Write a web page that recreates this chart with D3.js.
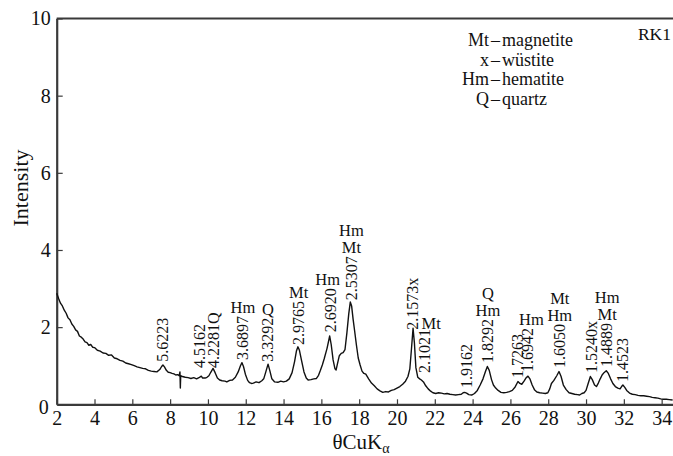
<!DOCTYPE html>
<html>
<head>
<meta charset="utf-8">
<script src="https://cdn.jsdelivr.net/npm/d3@7"></script>
</head>
<body style="margin:0">
<script>
// diffraction pattern (2theta, intensity)
const twoTheta = [
  2.00, 2.10, 2.20, 2.30, 2.40, 2.50, 2.60, 2.70, 2.80, 2.90, 3.00, 3.10, 3.20, 3.30, 3.40, 3.50, 3.60, 3.70, 3.80, 3.90,
  4.00, 4.15, 4.30, 4.45, 4.60, 4.75, 4.90, 5.05, 5.20, 5.35, 5.50, 5.65, 5.80, 5.95, 6.10, 6.25, 6.40, 6.55, 6.70, 6.85,
  7.00, 7.15, 7.30, 7.45, 7.55, 7.62, 7.70, 7.80, 7.90, 8.00, 8.10, 8.20, 8.30, 8.40, 8.48, 8.52, 8.54, 8.56, 8.65, 8.80,
  8.95, 9.10, 9.25, 9.40, 9.55, 9.65, 9.72, 9.85, 9.95, 10.05, 10.15, 10.27, 10.38, 10.50, 10.62, 10.75, 10.90, 11.00, 11.15, 11.30,
  11.45, 11.60, 11.72, 11.80, 11.88, 11.98, 12.10, 12.20, 12.30, 12.40, 12.55, 12.70, 12.85, 12.95, 13.05, 13.18, 13.28, 13.38, 13.53, 13.70,
  13.85, 14.00, 14.15, 14.30, 14.45, 14.58, 14.68, 14.76, 14.84, 14.95, 15.08, 15.20, 15.30, 15.45, 15.60, 15.74, 15.85, 15.95, 16.05, 16.15,
  16.30, 16.44, 16.52, 16.62, 16.72, 16.78, 16.85, 16.95, 17.05, 17.15, 17.25, 17.35, 17.45, 17.53, 17.60, 17.68, 17.76, 17.85, 17.95, 18.05,
  18.15, 18.25, 18.35, 18.50, 18.65, 18.80, 18.95, 19.10, 19.25, 19.40, 19.55, 19.70, 19.85, 20.00, 20.15, 20.30, 20.45, 20.58, 20.68, 20.76,
  20.85, 20.92, 21.00, 21.10, 21.20, 21.29, 21.40, 21.52, 21.65, 21.78, 21.90, 22.05, 22.20, 22.35, 22.50, 22.65, 22.80, 22.95, 23.10, 23.25,
  23.40, 23.50, 23.58, 23.68, 23.80, 23.95, 24.10, 24.25, 24.40, 24.55, 24.68, 24.78, 24.88, 25.00, 25.10, 25.22, 25.35, 25.50, 25.65, 25.80,
  25.95, 26.10, 26.25, 26.40, 26.50, 26.60, 26.72, 26.82, 26.93, 27.03, 27.15, 27.27, 27.40, 27.55, 27.70, 27.85, 27.98, 28.08, 28.17, 28.30,
  28.45, 28.57, 28.68, 28.80, 28.95, 29.10, 29.25, 29.40, 29.55, 29.66, 29.78, 29.90, 30.00, 30.10, 30.23, 30.33, 30.45, 30.55, 30.65, 30.75,
  30.85, 30.95, 31.07, 31.18, 31.30, 31.42, 31.55, 31.68, 31.80, 31.88, 31.95, 32.05, 32.15, 32.30, 32.45, 32.60, 32.75, 32.90, 33.05, 33.20,
  33.36, 33.50, 33.65, 33.80, 33.95, 34.10, 34.25, 34.40, 34.58
];
const intensity = [
  2.88, 2.74, 2.62, 2.55, 2.44, 2.36, 2.24, 2.19, 2.08, 2.02, 1.93, 1.89, 1.77, 1.74, 1.69, 1.62, 1.60, 1.53, 1.55, 1.48,
  1.47, 1.40, 1.38, 1.33, 1.32, 1.27, 1.28, 1.20, 1.18, 1.14, 1.12, 1.07, 1.05, 1.03, 1.00, 0.97, 0.95, 0.93, 0.92, 0.88,
  0.86, 0.85, 0.84, 0.90, 0.98, 1.02, 0.97, 0.88, 0.83, 0.82, 0.80, 0.79, 0.76, 0.77, 0.74, 0.84, 0.42, 0.74, 0.72, 0.70,
  0.69, 0.67, 0.69, 0.66, 0.70, 0.73, 0.68, 0.68, 0.70, 0.74, 0.83, 0.93, 0.82, 0.68, 0.63, 0.61, 0.60, 0.58, 0.62, 0.63,
  0.70, 0.84, 1.00, 1.08, 0.98, 0.78, 0.62, 0.56, 0.54, 0.55, 0.58, 0.56, 0.61, 0.66, 0.82, 1.04, 0.86, 0.66, 0.58, 0.57,
  0.60, 0.58, 0.60, 0.66, 0.82, 1.10, 1.38, 1.49, 1.40, 1.14, 0.84, 0.68, 0.63, 0.64, 0.66, 0.67, 0.75, 0.88, 1.02, 1.18,
  1.45, 1.77, 1.55, 1.15, 0.92, 0.89, 1.05, 1.26, 1.32, 1.34, 1.42, 1.85, 2.35, 2.65, 2.55, 2.20, 1.90, 1.55, 1.20, 1.02,
  0.86, 0.80, 0.78, 0.66, 0.55, 0.48, 0.40, 0.35, 0.31, 0.33, 0.32, 0.36, 0.38, 0.42, 0.46, 0.52, 0.60, 0.72, 0.92, 1.40,
  1.97, 1.60, 0.95, 0.70, 0.66, 0.63, 0.58, 0.48, 0.40, 0.34, 0.30, 0.28, 0.30, 0.29, 0.27, 0.28, 0.26, 0.25, 0.24, 0.25,
  0.26, 0.30, 0.31, 0.29, 0.25, 0.24, 0.28, 0.36, 0.50, 0.66, 0.85, 0.98, 0.88, 0.64, 0.50, 0.42, 0.36, 0.31, 0.30, 0.31,
  0.33, 0.36, 0.45, 0.59, 0.54, 0.52, 0.60, 0.68, 0.73, 0.66, 0.50, 0.38, 0.32, 0.30, 0.29, 0.28, 0.30, 0.40, 0.54, 0.62,
  0.74, 0.85, 0.72, 0.50, 0.38, 0.30, 0.28, 0.26, 0.25, 0.24, 0.28, 0.30, 0.36, 0.52, 0.72, 0.64, 0.50, 0.46, 0.55, 0.66,
  0.76, 0.82, 0.87, 0.80, 0.66, 0.54, 0.46, 0.42, 0.40, 0.46, 0.50, 0.44, 0.36, 0.29, 0.26, 0.25, 0.23, 0.22, 0.22, 0.21,
  0.20, 0.18, 0.17, 0.16, 0.14, 0.13, 0.13, 0.12, 0.11
];

// peak annotations: d-spacing text, 2theta, intensity where the label starts, phases above
const peakText = ["5.6223", "4.5162", "4.2281Q", "3.6897", "3.3292", "2.9765", "2.6920", "2.5307", "2.1573x",
  "2.1021", "1.9162", "1.8292", "1.7263", "1.6942", "1.6050", "1.5240x", "1.4889", "1.4523"];
const peakPos = [7.61, 9.56, 10.30, 11.85, 13.18, 14.80, 16.48, 17.59, 20.85,
  21.46, 23.67, 24.81, 26.40, 26.93, 28.61, 30.28, 31.07, 31.95];
const peakBase = [1.10, 0.94, 0.94, 1.15, 1.10, 1.54, 1.87, 2.70, 1.93,
  0.81, 0.42, 1.07, 0.68, 0.84, 0.94, 0.81, 0.97, 0.58];
const peakPhases = [[], [], [], ["Hm"], ["Q"], ["Mt"], ["Hm"], ["Mt", "Hm"], [],
  ["Mt"], [], ["Hm", "Q"], [], ["Hm"], ["Hm", "Mt"], [], ["Mt", "Hm"], []];
const phaseShift = [0, 0, 0, 0, 0, 0, -0.15, 0, 0, 0.35, 0, 0, 0, 0.18, 0, 0, 0.05, 0];

const legendSymbols = ["Mt", "x", "Hm", "Q"];
const legendNames = ["magnetite", "wüstite", "hematite", "quartz"];

const xTicks = d3.range(2, 35, 2);
const yTicks = [0, 2, 4, 6, 8, 10];

const chartW = 673, chartH = 456;
const plotLeft = 56.7, plotBottom = 404.3, plotTop = 18.5;

const svg = d3.select("body")
    .append("svg")
    .attr("width", chartW)
    .attr("height", chartH)
    .attr("font-family", "Liberation Serif");

const x = d3.scaleLinear()
    .domain([2, 34.6])
    .range([plotLeft, chartW]);

const y = d3.scaleLinear()
    .domain([0, 10])
    .range([plotBottom, plotTop]);

function txt(sel, size) {
    return sel.attr("font-family", "Liberation Serif").attr("font-size", size).attr("fill", "#111");
}

// rough length of a rotated label at 16px (times-like metrics)
function labelLen(t) {
    let w = 0;
    for (const c of t) w += c === "." ? 4 : (c === "Q" ? 11.5 : 8);
    return w;
}

// X axis (ticks point inward)
const xAxis = svg.append("g")
    .attr("transform", "translate(0," + plotBottom + ")")
    .call(d3.axisBottom(x).tickValues(xTicks).tickSizeInner(-5).tickSizeOuter(0).tickPadding(6.5));
xAxis.attr("font-family", "Liberation Serif").attr("font-size", 20);
xAxis.select(".domain").attr("stroke", "#3a3a3a").attr("stroke-width", 2.2);
xAxis.selectAll(".tick line").attr("stroke", "#3a3a3a").attr("stroke-width", 1.2);
txt(xAxis.selectAll("text"), 20);

// Y axis
const yAxis = svg.append("g")
    .attr("transform", "translate(" + plotLeft + ",0)")
    .call(d3.axisLeft(y).tickValues(yTicks).tickSizeInner(-6).tickSizeOuter(0).tickPadding(6));
yAxis.attr("font-family", "Liberation Serif").attr("font-size", 20);
yAxis.select(".domain").attr("stroke", "#3a3a3a").attr("stroke-width", 2.2);
yAxis.selectAll(".tick line").attr("stroke", "#3a3a3a").attr("stroke-width", 1.2);
txt(yAxis.selectAll("text"), 20);
// "0" sits a little low in the original
yAxis.selectAll(".tick").filter(d => d === 0).select("text").attr("x", -8).attr("dy", "0.45em");

// top frame line
svg.append("line")
    .attr("x1", x(2)).attr("x2", x(34.6))
    .attr("y1", y(10)).attr("y2", y(10))
    .attr("stroke", "#3a3a3a")
    .attr("stroke-width", 2.2);

// pattern
const pts = twoTheta.map((t, i) => [t, intensity[i]]);
svg.append("path")
    .datum(pts)
    .attr("fill", "none")
    .attr("stroke", "#111")
    .attr("stroke-width", 1.4)
    .attr("stroke-linejoin", "round")
    .attr("d", d3.line().x(d => x(d[0])).y(d => y(d[1])));

// peak labels
peakText.forEach((t, i) => {
    const px = x(peakPos[i]), py = y(peakBase[i]);
    txt(svg.append("text"), 16)
        .attr("transform", "translate(" + px + "," + py + ") rotate(-90)")
        .attr("dy", "0.33em")
        .text(t);
    const topY = py - labelLen(t) - 3;
    peakPhases[i].forEach((p, j) => {
        txt(svg.append("text"), 16.5)
            .attr("x", x(peakPos[i] + phaseShift[i]))
            .attr("y", topY - j * 17 + (phaseShift[i] > 0.3 ? 3 : 0))
            .attr("text-anchor", "middle")
            .text(p);
    });
});

// legend, aligned on the dash
legendSymbols.forEach((s, i) => {
    const by = 46 + i * 19.7;
    txt(svg.append("text"), 18).attr("x", 489).attr("y", by).attr("text-anchor", "end").text(s);
    txt(svg.append("text"), 18).attr("x", 495.5).attr("y", by).attr("text-anchor", "middle").text("–");
    txt(svg.append("text"), 18).attr("x", 502).attr("y", by).text(legendNames[i]);
});

txt(svg.append("text"), 17.5)
    .attr("x", 671).attr("y", 39.5)
    .attr("text-anchor", "end")
    .text("RK1");

// axis titles
const xt = txt(svg.append("text"), 21)
    .attr("x", 361).attr("y", 449)
    .attr("text-anchor", "middle");
xt.append("tspan").text("θCuK");
xt.append("tspan").attr("dy", 4).attr("font-size", 14).text("α");

txt(svg.append("text"), 22)
    .attr("transform", "translate(28,188) rotate(-90)")
    .attr("text-anchor", "middle")
    .text("Intensity");
</script>
</body>
</html>
